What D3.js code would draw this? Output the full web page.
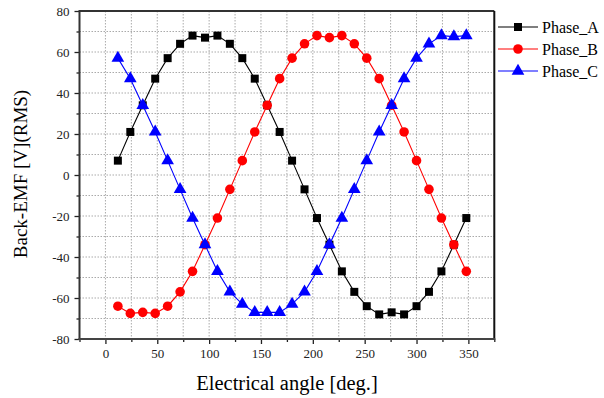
<!DOCTYPE html>
<html><head><meta charset="utf-8">
<script src="https://cdn.jsdelivr.net/npm/d3@7"></script>
<style>body{margin:0;background:#fff;} svg{display:block;} text{font-family:'Liberation Serif','Times New Roman',serif;}</style>
</head><body>
<svg id="chart" width="604" height="398"></svg>
<script>
const angles = [12,24,36,48,60,72,84,96,108,120,132,144,156,168,180,192,204,216,228,240,252,264,276,288,300,312,324,336,348];
const phaseA = [7,21,34,47,57,64,68,67,68,64,57,47,34,21,7,-7,-21,-34,-47,-57,-64,-68,-67,-68,-64,-57,-47,-34,-21];
const phaseB = [-64,-67.5,-67,-67.5,-64,-57,-47,-34,-21,-7,7,21,34,47,57,64,68,67,68,64,57,47,34,21,7,-7,-21,-34,-47];
const phaseC = [57,47,34,21,7,-7,-21,-34,-47,-57,-63,-67,-67,-67,-63,-57,-47,-34,-21,-7,7,21,34,47,57,64,68,67.5,68];
const seriesNames = ["Phase_A","Phase_B","Phase_C"];
const xTicks = [0,50,100,150,200,250,300,350];
const yTicks = [-80,-60,-40,-20,0,20,40,60,80];

const svg = d3.select("#chart");
const L = 79.5, R = 494.3, T = 11, B = 339;
const x = d3.scaleLinear().domain([-25,375]).range([L,R]);
const y = d3.scaleLinear().domain([-80,80]).range([B,T]);
const font = "'Liberation Serif','Times New Roman',serif";

// grid
const g = svg.append("g");
d3.range(-25,376,25).forEach(v=>{
  if (v<=-25||v>=375) return;
  g.append("line").attr("x1",x(v)).attr("x2",x(v)).attr("y1",T).attr("y2",B)
   .attr("stroke","#aaa").attr("stroke-width",1).attr("stroke-dasharray","1.5,1.5");
});
d3.range(-70,80,10).forEach(v=>{
  g.append("line").attr("x1",L).attr("x2",R).attr("y1",y(v)).attr("y2",y(v))
   .attr("stroke","#aaa").attr("stroke-width",1).attr("stroke-dasharray","1.5,1.5");
});

// axes
const fmt = d => String(d);
const xAxis = d3.axisBottom(x).tickValues(xTicks).tickSize(5).tickPadding(5).tickFormat(fmt);
const xMinor = d3.axisBottom(x).tickValues([-25,25,75,125,175,225,275,325,375]).tickSize(3).tickFormat("");
const yAxis = d3.axisLeft(y).tickValues(yTicks).tickSize(5).tickPadding(5).tickFormat(fmt);
const yMinor = d3.axisLeft(y).tickValues(d3.range(-70,80,20)).tickSize(3).tickFormat("");

function style(sel){
  sel.attr("font-family",font).attr("font-size",13);
  sel.select(".domain").remove();
  sel.selectAll("line").attr("stroke","#222").attr("stroke-width",1.3);
  sel.selectAll("text").attr("fill","#222").style("font-family",font).style("font-size","13px");
}
svg.append("g").attr("transform",`translate(0,${B})`).call(xAxis).call(style);
svg.append("g").attr("transform",`translate(0,${B})`).call(xMinor).call(style);
svg.append("g").attr("transform",`translate(${L},0)`).call(yAxis).call(style);
svg.append("g").attr("transform",`translate(${L},0)`).call(yMinor).call(style);

// frame
svg.append("line").attr("x1",L).attr("x2",R).attr("y1",T).attr("y2",T).attr("stroke","#333").attr("stroke-width",2);
svg.append("line").attr("x1",R).attr("x2",R).attr("y1",T).attr("y2",B).attr("stroke","#111").attr("stroke-width",2);
svg.append("line").attr("x1",L).attr("x2",L).attr("y1",T-1).attr("y2",B+1).attr("stroke","#333").attr("stroke-width",2);
svg.append("line").attr("x1",L-1).attr("x2",R+1).attr("y1",B).attr("y2",B).attr("stroke","#444").attr("stroke-width",2.2);

const series = [
  {name:seriesNames[0], vals:phaseA, color:"#000000", sym:d3.symbolSquare, size:64},
  {name:seriesNames[1], vals:phaseB, color:"#ff0000", sym:d3.symbolCircle, size:72},
  {name:seriesNames[2], vals:phaseC, color:"#0000ff", sym:d3.symbolTriangle, size:70},
];
const line = d3.line().x((d,i)=>x(angles[i])).y(d=>y(d));
series.forEach(s=>{
  svg.append("path").datum(s.vals).attr("d",line).attr("fill","none").attr("stroke",s.color).attr("stroke-width",1.1);
  svg.selectAll(null).data(s.vals).enter().append("path")
    .attr("d",d3.symbol().type(s.sym).size(s.size))
    .attr("transform",(d,i)=>`translate(${x(angles[i])},${y(d)})`)
    .attr("fill",s.color);
});

// legend
series.forEach((s,i)=>{
  const ly = 27 + i*22;
  svg.append("line").attr("x1",498).attr("x2",538).attr("y1",ly).attr("y2",ly).attr("stroke",s.color).attr("stroke-width",1.1);
  svg.append("path").attr("d",d3.symbol().type(s.sym).size(s.size)).attr("transform",`translate(518,${ly})`).attr("fill",s.color);
  svg.append("text").attr("x",542).attr("y",ly).attr("dy","0.35em").text(s.name)
    .style("font-family",font).style("font-size","16px").attr("fill","#000");
});

// titles
svg.append("text").attr("x",287).attr("y",390).attr("text-anchor","middle").text("Electrical angle [deg.]")
  .style("font-family",font).style("font-size","20.5px").attr("fill","#000");
svg.append("text").attr("transform","translate(27,174) rotate(-90)").attr("text-anchor","middle").text("Back-EMF [V](RMS)")
  .style("font-family",font).style("font-size","19px").attr("fill","#000");
</script>
</body></html>
